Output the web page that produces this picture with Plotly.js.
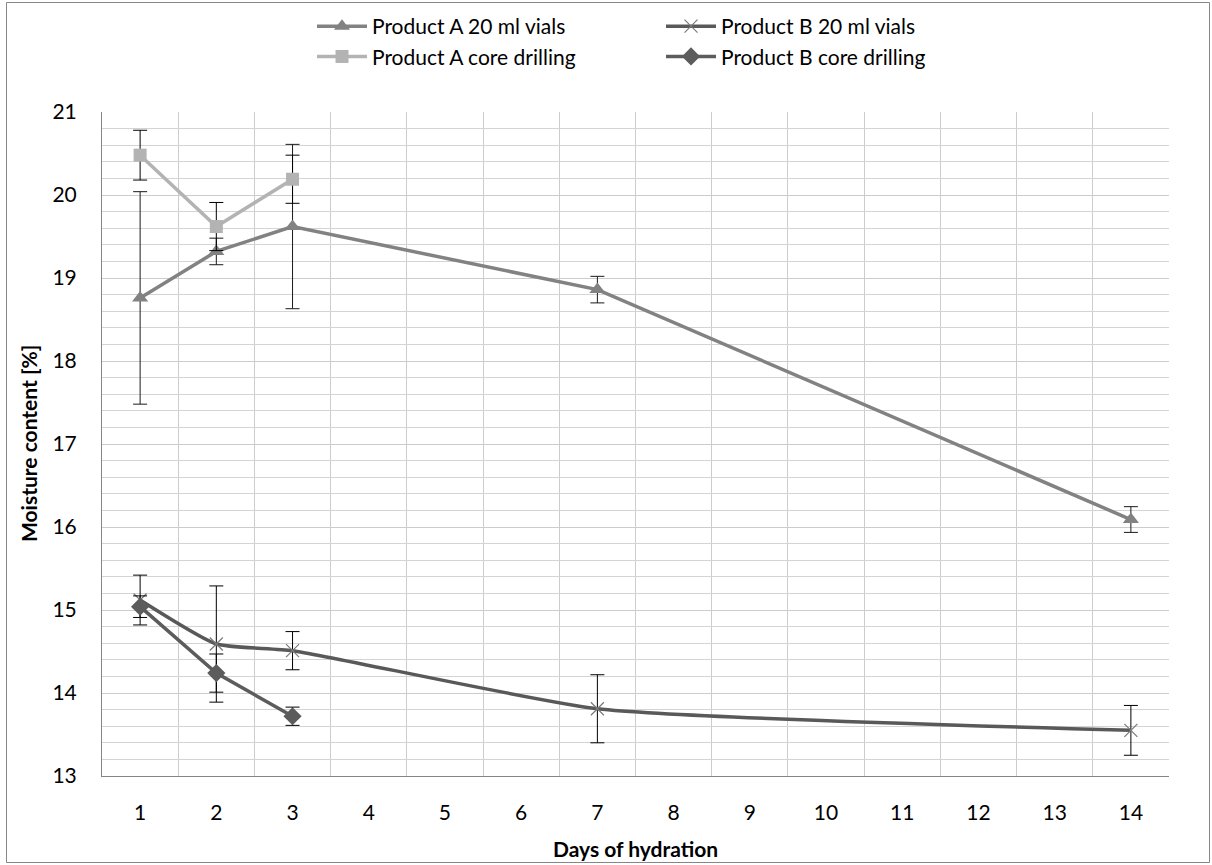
<!DOCTYPE html>
<html><head><meta charset="utf-8">
<script src="https://cdn.plot.ly/plotly-3.0.1.min.js"></script>
<style>html,body{margin:0;padding:0;background:#fff}#chart{width:1212px;height:865px}</style>
</head><body><div id="chart"></div>
<script>
// Data
const days = [1, 2, 3, 7, 14];
const daysCore = [1, 2, 3];
const aVials = [18.76, 19.32, 19.62, 18.86, 16.09];
const aVialsErr = [1.28, 0.16, 0.99, 0.16, 0.155];
const bVials = [15.12, 14.59, 14.51, 13.81, 13.55];
const bVialsErr = [0.30, 0.70, 0.23, 0.41, 0.30];
const aCore = [20.48, 19.62, 20.19];
const aCoreErr = [0.30, 0.29, 0.29];
const bCore = [15.04, 14.24, 13.72];
const bCoreErr = [0.13, 0.23, 0.11];
const xTickVals = [1,2,3,4,5,6,7,8,9,10,11,12,13,14];
const xTickText = ['1','2','3','4','5','6','7','8','9','10','11','12','13','14'];
const seriesNames = ['Product A 20 ml vials','Product B 20 ml vials','Product A core drilling','Product B core drilling'];
const xTitle = 'Days of hydration';
const yTitle = 'Moisture content [%]';

const FONT = 'Lato, "Open Sans", sans-serif';
const FS = 21;
function err(arr, color) {
  return {type: 'data', array: arr, visible: true, color: color || '#000', thickness: 1, width: 7};
}
const traces = [
  {x: days, y: aVials, name: seriesNames[0], type: 'scatter', mode: 'lines+markers', legend: 'legend',
   line: {color: '#828282', width: 3.5},
   marker: {symbol: 'triangle-up', size: 14, color: '#828282'},
   error_y: err(aVialsErr, '#1a1a1a')},
  {x: days, y: bVials, name: seriesNames[1], type: 'scatter', mode: 'lines+markers', legend: 'legend2',
   line: {color: '#595959', width: 3.5, shape: 'spline', smoothing: 0.5},
   marker: {symbol: 'x-thin', size: 13, color: '#7a7a7a', line: {color: '#7a7a7a', width: 1.2}},
   error_y: err(bVialsErr)},
  {x: daysCore, y: aCore, name: seriesNames[2], type: 'scatter', mode: 'lines+markers', legend: 'legend',
   line: {color: '#b3b3b3', width: 3.5},
   marker: {symbol: 'square', size: 13, color: '#b3b3b3'},
   error_y: err(aCoreErr)},
  {x: daysCore, y: bCore, name: seriesNames[3], type: 'scatter', mode: 'lines+markers', legend: 'legend2',
   line: {color: '#5c5c5c', width: 3.5},
   marker: {symbol: 'diamond', size: 14, color: '#5c5c5c'},
   error_y: err(bCoreErr)}
];

const L = 102, T = 112, W = 1067, H = 664;
const layout = {
  width: 1212, height: 865,
  margin: {l: L, r: 1212 - L - W, t: T, b: 865 - T - H, pad: 0, autoexpand: false},
  paper_bgcolor: '#fff', plot_bgcolor: '#fff',
  font: {family: FONT, size: FS, color: '#000'},
  showlegend: true,
  legend: {orientation: 'v', xref: 'container', yref: 'container', x: 312/1212, y: 1 - 6/865,
           xanchor: 'left', yanchor: 'top', itemwidth: 50, tracegroupgap: 0,
           font: {family: FONT, size: FS, color: '#000'}, bgcolor: 'rgba(0,0,0,0)'},
  legend2: {orientation: 'v', xref: 'container', yref: 'container', x: 661/1212, y: 1 - 6/865,
           xanchor: 'left', yanchor: 'top', itemwidth: 50, tracegroupgap: 0,
           font: {family: FONT, size: FS, color: '#000'}, bgcolor: 'rgba(0,0,0,0)'},
  xaxis: {range: [0.5, 14.5], tickmode: 'array', tickvals: xTickVals, ticktext: xTickText,
          showgrid: false, zeroline: false, showline: true, linecolor: '#868686', linewidth: 1,
          ticks: '', ticklabelstandoff: 18, automargin: false, tickangle: 0,
          tickfont: {family: FONT, size: FS, color: '#000'},
          minor: {tickmode: 'linear', tick0: 0.5, dtick: 1, showgrid: true, gridcolor: '#cccccc', gridwidth: 1}},
  yaxis: {range: [13, 21], tickmode: 'linear', tick0: 13, dtick: 1,
          showgrid: true, gridcolor: '#cccccc', gridwidth: 1, zeroline: false,
          showline: true, linecolor: '#868686', linewidth: 1, ticks: '', ticklabelstandoff: 20,
          automargin: false, tickfont: {family: FONT, size: FS, color: '#000'},
          minor: {dtick: 0.2, showgrid: true, gridcolor: '#d4d4d4', gridwidth: 1}},
  annotations: [
    {text: '<b>' + xTitle + '</b>', xref: 'paper', yref: 'paper', x: 0.5, y: (T + H - 848) / H,
     xanchor: 'center', yanchor: 'middle', showarrow: false, font: {family: FONT, size: FS, color: '#000'}},
    {text: '<b>' + yTitle + '</b>', xref: 'paper', yref: 'paper', x: (28 - L) / W, y: 0.5,
     xanchor: 'center', yanchor: 'middle', textangle: -90, showarrow: false,
     font: {family: FONT, size: FS, color: '#000'}}
  ],
  shapes: [
    {type: 'rect', xref: 'paper', yref: 'paper',
     x0: (6.5 - L) / W, x1: (1209.5 - L) / W, y0: (T + H - 862.5) / H, y1: (T + H - 2.5) / H,
     line: {color: '#868686', width: 1}, fillcolor: 'rgba(0,0,0,0)', layer: 'below'}
  ]
};
Plotly.newPlot('chart', traces, layout, {displayModeBar: false, staticPlot: true});
</script></body></html>
